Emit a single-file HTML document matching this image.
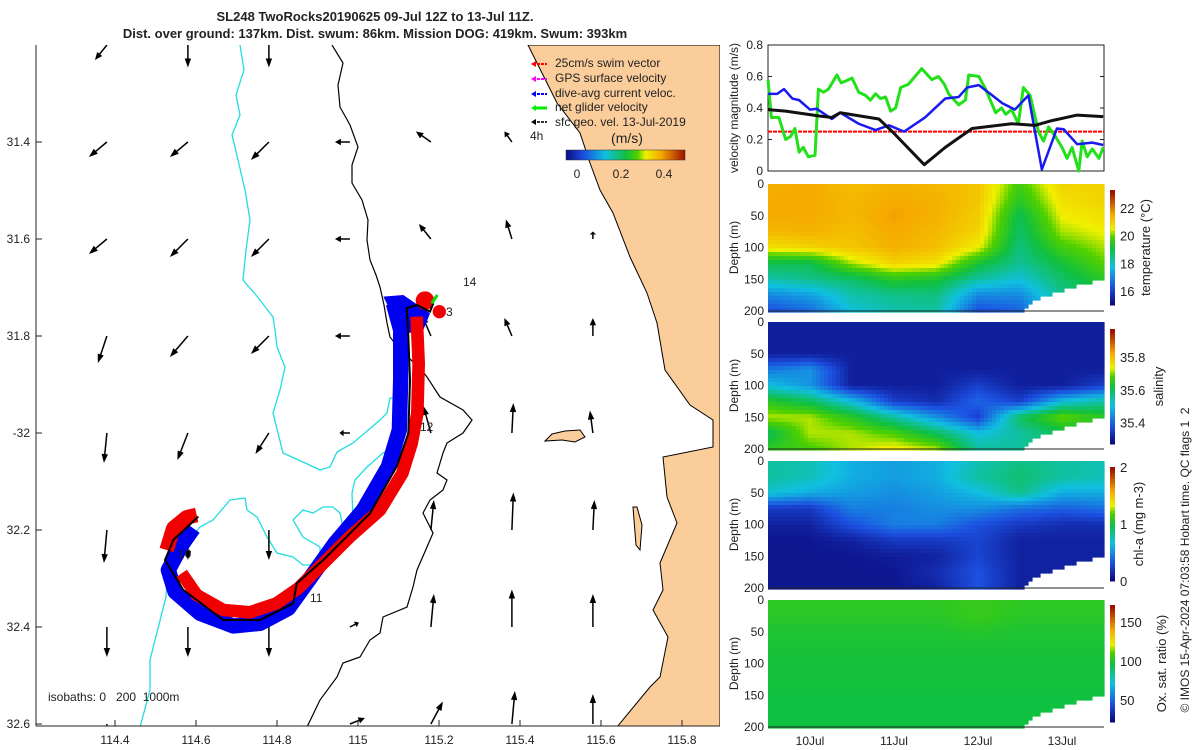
<!DOCTYPE html>
<html><head><meta charset="utf-8"><style>
html,body{margin:0;padding:0;background:#fff;}
svg{display:block;font-family:"Liberation Sans","DejaVu Sans",sans-serif;}
text{fill:#222;}
</style></head><body>
<svg id="root" width="1200" height="750" viewBox="0 0 1200 750" xmlns="http://www.w3.org/2000/svg">
<rect width="1200" height="750" fill="#fff"/>
<text x="375" y="21" text-anchor="middle" font-size="13" font-weight="bold">SL248 TwoRocks20190625 09-Jul 12Z to 13-Jul 11Z.</text>
<text x="375" y="38" text-anchor="middle" font-size="13" font-weight="bold">Dist. over ground: 137km. Dist. swum: 86km. Mission DOG: 419km. Swum: 393km</text>

<g id="map">
<clipPath id="mapclip"><rect x="36" y="45" width="684" height="681"/></clipPath>
<g clip-path="url(#mapclip)">
<polygon fill="#fbcd9b" stroke="#000" stroke-width="1" points="528,45 557,103 580,133 590,163 600,190 613,213 630,257 647,293 657,323 665,370 690,405 713,420 713,447 663,457 667,497 677,523 660,563 663,590 653,610 668,637 660,677 650,687 617,727 720,727 720,45"/>
<path d="M545,441 L552,434 L565,431 L580,430 L585,437 L575,442 L562,440 Z" fill="#fbcd9b" stroke="#000" stroke-width="1"/>
<path d="M633,507 L637,507 L642,525 L640,550 L636,545 Z" fill="#fbcd9b" stroke="#000" stroke-width="1"/>
<polyline fill="none" stroke="#000" stroke-width="1.2" points="332,45 343,63 338,85 340,107 350,125 358,147 352,165 352,183 362,200 368,220 367,240 370,260 376,275 380,287 384,305 387,323 390,337 400,350 420,368 427,377 440,397 463,410 472,420 463,433 447,443 443,453 437,473 447,480 443,490 430,500 423,513 433,533 427,547 417,570 413,587 407,607 383,617 380,633 370,640 360,657 343,663 337,677 320,700 307,727"/>
<polyline fill="none" stroke="#22dde0" stroke-width="1.3" points="240,45 244,70 236,95 240,115 232,135 238,160 245,190 250,220 246,250 243,280 256,295 273,317 275,330 277,347 285,367 280,390 273,413 278,433 283,453 303,462 320,470 330,467 337,452 353,443 380,420 387,413 390,398 398,398"/>
<polyline fill="none" stroke="#22dde0" stroke-width="1.3" points="150,690 150,660 166,597 167,580 180,550 200,527 213,520 230,500 245,498 247,510 257,517 267,537 277,553 293,557 303,565 320,565 320,547 303,537 293,520 303,510 313,513 323,507 333,507 340,513 343,527 350,530 353,520 352,493 355,480 367,467 383,453 390,450"/>
<polyline fill="none" stroke="#22dde0" stroke-width="1.3" points="150,690 140,727"/>
<g id="arrows"></g>
<g transform="translate(150,280) scale(0.33333)">
<polygon fill="#0000f0" points="700,50 760,45 840,100 820,150 770,160 735,120"/>
<polyline fill="none" stroke="#0000f0" stroke-width="46" stroke-linejoin="round" points="730,70 752,150 752,300 748,450 715,560 640,690 555,790 480,895 415,985 330,1030 250,1038 150,1000 75,935 55,870 95,795 130,745"/>
<polyline fill="none" stroke="#f00000" stroke-width="38" stroke-linejoin="round" points="800,110 806,250 802,400 785,490 757,580 690,690 600,770 520,850 445,925 380,970 300,997 220,990 140,945 95,880"/>
<polyline fill="none" stroke="#f00000" stroke-width="44" stroke-linejoin="round" points="50,810 70,745 110,712 140,705"/>
<circle cx="825" cy="62" r="28" fill="#f00000"/>
<circle cx="868" cy="95" r="20" fill="#f00000"/>
<polyline fill="none" stroke="#000" stroke-width="6" points="850,70 840,95 800,75 770,85 775,170 780,300 775,460 740,560 660,700 590,770 520,840 440,910 430,970 330,1020 220,1020 100,930 45,840 70,780 145,710"/>
<line x1="845" y1="70" x2="862" y2="45" stroke="#00e000" stroke-width="9"/>
</g>
<text x="463" y="286" font-size="12">14</text>
<text x="446" y="316" font-size="12">3</text>
<text x="420" y="431" font-size="12">12</text>
<text x="310" y="602" font-size="12">11</text>
<text x="178" y="558" font-size="12">10</text>
<text x="48" y="701" font-size="12" xml:space="preserve">isobaths: 0   200  1000m</text>
<g>
<line x1="533" y1="64" x2="547" y2="64" stroke="#f00" stroke-width="2" stroke-dasharray="3,1"/>
<polygon points="531,64 536,61 536,67" fill="#f00"/>
<line x1="533" y1="79" x2="547" y2="79" stroke="#f0f" stroke-width="2" stroke-dasharray="3,1"/>
<polygon points="531,79 536,76 536,82" fill="#f0f"/>
<line x1="533" y1="94" x2="547" y2="94" stroke="#00f" stroke-width="2" stroke-dasharray="3,1"/>
<polygon points="531,94 536,91 536,97" fill="#00f"/>
<line x1="533" y1="108" x2="547" y2="108" stroke="#0e0" stroke-width="3"/>
<polygon points="531,108 536,105 536,111" fill="#0e0"/>
<line x1="533" y1="122" x2="547" y2="122" stroke="#333" stroke-width="2" stroke-dasharray="3,1"/>
<polygon points="531,122 536,119 536,125" fill="#000"/>
<text x="555" y="67" font-size="12">25cm/s swim vector</text>
<text x="555" y="82" font-size="12">GPS surface velocity</text>
<text x="555" y="97" font-size="12">dive-avg current veloc.</text>
<text x="555" y="111" font-size="12">net glider velocity</text>
<text x="555" y="126" font-size="12">sfc geo. vel. 13-Jul-2019</text>
<text x="530" y="140" font-size="12">4h</text>
<text x="627" y="143" font-size="14" text-anchor="middle">(m/s)</text>
<defs><linearGradient id="jet" x1="0" x2="1" y1="0" y2="0">
<stop offset="0" stop-color="#0b0b80"/><stop offset="0.15" stop-color="#1c50e0"/><stop offset="0.33" stop-color="#10c0e0"/><stop offset="0.5" stop-color="#10c040"/><stop offset="0.6" stop-color="#50d000"/><stop offset="0.67" stop-color="#f0f000"/><stop offset="0.8" stop-color="#f5a800"/><stop offset="1" stop-color="#a01000"/></linearGradient></defs>
<rect x="566" y="150" width="119" height="10" fill="url(#jet)" stroke="#333" stroke-width="0.5"/>
<text x="577" y="178" font-size="12" text-anchor="middle">0</text>
<text x="621" y="178" font-size="12" text-anchor="middle">0.2</text>
<text x="664" y="178" font-size="12" text-anchor="middle">0.4</text>
</g>
</g>
<line x1="36" y1="45" x2="36" y2="726" stroke="#222" stroke-width="1"/>
<line x1="36" y1="726" x2="720" y2="726" stroke="#222" stroke-width="1"/>
<g id="mapticks"></g>
</g>

<g id="vel"></g>
<g id="heat"></g>
<text transform="translate(1189,560) rotate(-90)" text-anchor="middle" font-size="12" xml:space="preserve">© IMOS 15-Apr-2024 07:03:58 Hobart time. QC flags 1  2</text>
</svg>
<script>
const blackT=[0,0.21,0.6,0.76,0.86,1.32,1.48,1.86,2.11,2.43,2.9,3.18,3.38,3.68,3.99];
const blackV=[0.39,0.38,0.35,0.34,0.37,0.33,0.25,0.04,0.15,0.27,0.30,0.29,0.32,0.355,0.345];
const blueT=[0,0.11,0.19,0.29,0.37,0.5,0.58,0.76,0.86,1.08,1.28,1.44,1.62,1.87,2.11,2.27,2.37,2.51,2.67,2.79,2.94,3.1,3.26,3.44,3.52,3.68,3.86,3.99];
const blueV=[0.49,0.49,0.52,0.46,0.45,0.39,0.395,0.33,0.37,0.30,0.26,0.29,0.25,0.34,0.46,0.47,0.53,0.545,0.48,0.43,0.39,0.48,0.01,0.27,0.265,0.17,0.18,0.165];
const greenT=[0,0.04,0.13,0.21,0.27,0.32,0.37,0.42,0.48,0.56,0.6,0.66,0.72,0.82,0.87,0.92,1.0,1.08,1.16,1.22,1.28,1.34,1.4,1.46,1.52,1.58,1.67,1.75,1.83,1.95,2.03,2.1,2.15,2.27,2.35,2.39,2.51,2.59,2.71,2.78,2.83,2.9,2.98,3.04,3.12,3.22,3.28,3.34,3.42,3.5,3.56,3.62,3.7,3.74,3.8,3.86,3.94,3.99];
const greenV=[0.58,0.34,0.34,0.20,0.22,0.27,0.12,0.15,0.09,0.10,0.52,0.50,0.52,0.61,0.56,0.57,0.59,0.50,0.48,0.45,0.49,0.46,0.47,0.38,0.40,0.53,0.55,0.60,0.65,0.58,0.60,0.55,0.49,0.42,0.45,0.61,0.60,0.52,0.37,0.40,0.36,0.39,0.30,0.53,0.48,0.25,0.19,0.28,0.22,0.15,0.08,0.15,0.0,0.19,0.09,0.14,0.08,0.15];
const swimV=0.25;
const velTicks=[0,0.2,0.4,0.6,0.8];
const dayLabels=['10Jul','11Jul','12Jul','13Jul'];
const dayPos=[0.5,1.5,2.5,3.5];

const gridDepths=[0,25,50,75,100,125,150,175,200];
const gridTimes=[0,0.5,1,1.5,2,2.5,3,3.5,4];
const tempGrid=[
[21.5,21.6,21.3,21.5,21.4,21.2,19.8,21.0,21.0],
[21.6,21.6,21.4,21.6,21.5,21.2,19.5,20.8,21.0],
[21.6,21.6,21.4,21.7,21.5,21.1,19.0,20.6,20.8],
[21.4,21.5,21.3,21.6,21.4,21.0,18.8,20.3,20.6],
[20.8,21.0,21.2,21.5,21.3,20.6,18.6,19.8,20.3],
[19.0,19.0,20.3,21.0,20.8,19.3,18.4,19.2,20.0],
[18.2,18.5,18.8,19.5,19.3,18.3,17.8,18.8,19.5],
[17.0,17.3,18.2,18.5,18.6,17.0,17.0,18.5,19.0],
[16.2,16.6,17.8,18.2,18.3,16.2,16.5,18.0,18.5]];
const salGrid=[
[35.3,35.3,35.3,35.3,35.3,35.3,35.3,35.3,35.3],
[35.3,35.3,35.3,35.3,35.3,35.3,35.3,35.3,35.3],
[35.3,35.3,35.3,35.3,35.3,35.3,35.3,35.3,35.3],
[35.42,35.45,35.3,35.3,35.3,35.3,35.3,35.3,35.3],
[35.5,35.45,35.3,35.3,35.3,35.35,35.3,35.3,35.35],
[35.65,35.6,35.5,35.35,35.32,35.4,35.35,35.5,35.55],
[35.72,35.72,35.65,35.55,35.45,35.35,35.6,35.7,35.65],
[35.6,35.72,35.72,35.68,35.6,35.5,35.55,35.6,35.6],
[35.65,35.68,35.72,35.75,35.72,35.55,35.55,35.6,35.6]];
const chlGrid=[
[0.8,0.75,0.6,0.55,0.6,0.75,0.85,0.8,0.75],
[0.8,0.75,0.6,0.55,0.6,0.8,0.9,0.8,0.75],
[0.7,0.6,0.55,0.5,0.55,0.65,0.85,0.6,0.6],
[0.2,0.2,0.45,0.45,0.5,0.5,0.4,0.35,0.4],
[0.1,0.1,0.3,0.45,0.45,0.3,0.2,0.15,0.15],
[0.05,0.05,0.1,0.2,0.2,0.25,0.1,0.1,0.1],
[0.05,0.05,0.05,0.08,0.1,0.25,0.1,0.1,0.1],
[0.05,0.05,0.05,0.05,0.15,0.3,0.1,0.1,0.1],
[0.05,0.05,0.05,0.05,0.1,0.3,0.1,0.1,0.1]];
const oxyGrid=[
[104,104,104,104,104,106,104,104,104],
[103,103,103,103,103,106,103,103,103],
[100,100,100,100,100,102,100,100,100],
[99,99,99,99,99,99,99,99,99],
[98,98,98,98,98,98,98,98,98],
[98,98,98,98,98,98,98,98,98],
[97,97,97,97,97,97,97,97,97],
[97,97,97,97,97,97,97,97,97],
[97,97,97,97,97,97,97,97,97]];
const bottomT=[0,3.0,3.2,3.5,4];
const bottomD=[200,200,180,165,148];

const arrowLons=[114.38,114.58,114.78,114.98,115.18,115.38,115.58];
const arrowLats=[31.2,31.4,31.6,31.8,32.0,32.2,32.4,32.6];
const arrowU=[
[-0.08,0,0,null,null,null,null],
[-0.12,-0.12,-0.12,-0.1,-0.1,-0.05,null],
[-0.12,-0.12,-0.12,-0.1,-0.08,-0.04,0.0],
[-0.06,-0.12,-0.12,-0.1,-0.06,-0.05,0],
[-0.02,-0.07,-0.09,-0.07,-0.05,0.01,-0.02],
[-0.02,0,0,null,0.02,0.01,0.01],
[0,0,0,0.06,0.02,0,0],
[0,null,null,0.1,0.08,0.02,0]];
const arrowV=[
[-0.1,-0.15,-0.15,null,null,null,null],
[-0.1,-0.1,-0.12,0,0.07,0.07,null],
[-0.1,-0.12,-0.12,0,0.1,0.13,0.05],
[-0.18,-0.14,-0.12,0,0.14,0.12,0.12],
[-0.2,-0.18,-0.14,0,0.18,0.2,0.15],
[-0.22,-0.2,-0.2,null,0.2,0.25,0.2],
[-0.2,-0.2,-0.2,0.03,0.22,0.25,0.22],
[-0.05,null,null,0.04,0.15,0.22,0.2]];
const lonTicks=[114.4,114.6,114.8,115,115.2,115.4,115.6,115.8];
const latTicks=[31.4,31.6,31.8,32,32.2,32.4,32.6];
const latLabels=['31.4','31.6','31.8','-32','32.2','32.4','32.6'];
const lonLabels=['114.4','114.6','114.8','115','115.2','115.4','115.6','115.8'];

const NS='http://www.w3.org/2000/svg';
function mk(tag,attrs,parent){const e=document.createElementNS(NS,tag);for(const k in attrs)e.setAttribute(k,attrs[k]);parent.appendChild(e);return e;}
const X=lon=>115+(lon-114.4)*405;
const Y=lat=>142+(lat-31.4)*485;

const mt=document.getElementById('mapticks');
lonTicks.forEach((v,i)=>{const x=X(v);
 const l=mk('line',{x1:x,y1:726,x2:x,y2:720,stroke:'#222'},mt);
 
 
 const t=mk('text',{x:x,y:744,'font-size':12,'text-anchor':'middle'},mt);t.textContent=lonLabels[i];
 
 });
latTicks.forEach((v,i)=>{const y=Y(v);
 const l=mk('line',{x1:36,y1:y,x2:42,y2:y,stroke:'#222'},mt);
 
 
 const t=mk('text',{x:30,y:y+4,'font-size':12,'text-anchor':'end'},mt);t.textContent=latLabels[i];
 
 });

const ag=document.getElementById('arrows');const S=150;
arrowLats.forEach((la,r)=>arrowLons.forEach((lo,c)=>{const u=arrowU[r][c],v=arrowV[r][c];if(u===null||v===null)return;
 const x0=X(lo),y0=Y(la),x1=x0+u*S,y1=y0-v*S;const L=Math.hypot(x1-x0,y1-y0);if(L<1)return;
 const g=mk('g',{},ag);
 
 
 const ux=(x1-x0)/L,uy=(y1-y0)/L,h=Math.min(9,L*0.4);
 mk('line',{x1:x0,y1:y0,x2:x1-ux*h*0.6,y2:y1-uy*h*0.6,stroke:'#000','stroke-width':1.5},g);
 mk('polygon',{points:`${x1},${y1} ${x1-ux*h-uy*3.2},${y1-uy*h+ux*3.2} ${x1-ux*h+uy*3.2},${y1-uy*h-ux*3.2}`,fill:'#000'},g);
}));

const vg=document.getElementById('vel');
const VX=t=>768+t*84, VY=v=>171-v/0.8*126;
mk('rect',{x:768,y:45,width:336,height:126,fill:'none',stroke:'#222','stroke-width':1},vg);
velTicks.forEach(v=>{const y=VY(v);mk('line',{x1:768,y1:y,x2:772,y2:y,stroke:'#222'},vg);mk('line',{x1:1104,y1:y,x2:1100,y2:y,stroke:'#222'},vg);
 const t=mk('text',{x:763,y:y+4,'font-size':12,'text-anchor':'end'},vg);t.textContent=String(v);
 
 });
const vlab=mk('text',{transform:'translate(738,108) rotate(-90)','font-size':12,'text-anchor':'middle'},vg);vlab.textContent='velocity magnitude (m/s)';


function line(T,V,col,w,name,dash){const p=mk('polyline',{points:T.map((t,i)=>VX(t)+','+VY(V[i])).join(' '),fill:'none',stroke:col,'stroke-width':w,'stroke-linejoin':'round'},vg);if(dash)p.setAttribute('stroke-dasharray',dash);
 
 }
line([0,4],[swimV,swimV],'#f00',2,'swim-speed-line','4,1');
line(greenT,greenV,'#22e01a',3,'net-glider-velocity-line');
line(blueT,blueV,'#1a1af0',2.5,'dive-avg-current-line');
line(blackT,blackV,'#111',3,'sfc-geo-velocity-line');

function cmap(f){f=Math.max(0,Math.min(1,f));const st=[[0,[11,11,128]],[0.15,[28,80,224]],[0.33,[16,192,224]],[0.5,[16,192,64]],[0.6,[80,208,0]],[0.67,[240,240,0]],[0.8,[245,168,0]],[1,[160,16,0]]];
 for(let i=1;i<st.length;i++){if(f<=st[i][0]){const a=st[i-1],b=st[i],r=(f-a[0])/(b[0]-a[0]);return 'rgb('+a[1].map((c,k)=>Math.round(c+(b[1][k]-c)*r)).join(',')+')';}}return 'rgb(160,16,0)';}
function interp(xs,ys,x){if(x<=xs[0])return ys[0];for(let i=1;i<xs.length;i++)if(x<=xs[i])return ys[i-1]+(ys[i]-ys[i-1])*(x-xs[i-1])/(xs[i]-xs[i-1]);return ys[ys.length-1];}
function bil(G,t,d){const ci=Math.min(7,Math.floor(t/0.5)),ri=Math.min(7,Math.floor(d/25));const ft=(t-ci*0.5)/0.5,fd=(d-ri*25)/25;
 const a=G[ri][ci],b=G[ri][ci+1],c=G[ri+1][ci],e=G[ri+1][ci+1];return (a*(1-ft)+b*ft)*(1-fd)+(c*(1-ft)+e*ft)*fd;}
const hg=document.getElementById('heat');
const panels=[
 {name:'temperature',G:tempGrid,lo:15,hi:23.3,y0:184,ticks:[16,18,20,22],lab:'temperature (°C)',lx:1150,cb0:190,cb1:305},
 {name:'salinity',G:salGrid,lo:35.27,hi:35.97,y0:322,ticks:[35.4,35.6,35.8],lab:'salinity',lx:1163,cb0:329,cb1:444},
 {name:'chlorophyll',G:chlGrid,lo:0,hi:2,y0:461,ticks:[0,1,2],lab:'chl-a (mg m-3)',lx:1143,cb0:467,cb1:581},
 {name:'oxygen',G:oxyGrid,lo:22,hi:172,y0:600,ticks:[50,100,150],lab:'Ox. sat. ratio (%)',lx:1166,cb0:605,cb1:722}];
const H=127, cw=4, chh=4;
panels.forEach(P=>{const g=mk('g',{},hg);
 
 
 const DY=d=>P.y0+d/200*H;
 for(let px=0;px<336;px+=cw){const t=(px+cw/2)/84;const bd=interp(bottomT,bottomD,t);
  for(let py=0;py<H;py+=chh){const d=(py+chh/2)/H*200;if(d>bd+2)break;
   const r=mk('rect',{x:768+px,y:P.y0+py,width:cw+0.6,height:chh+0.6,fill:cmap((bil(P.G,t,d)-P.lo)/(P.hi-P.lo))},g);
   
   }}
 mk('line',{x1:768,y1:P.y0+H,x2:1104,y2:P.y0+H,stroke:'#222'},g);
 [0,50,100,150,200].forEach(d=>{const t=mk('text',{x:764,y:DY(d)+4,'font-size':12,'text-anchor':'end'},g);t.textContent=d;
  
  });
 const dl=mk('text',{transform:`translate(738,${P.y0+H/2}) rotate(-90)`,'font-size':12,'text-anchor':'middle'},g);dl.textContent='Depth (m)';
 
 
 const n=40;for(let i=0;i<n;i++){const r=mk('rect',{x:1110,y:P.cb1-(i+1)*(P.cb1-P.cb0)/n,width:5,height:(P.cb1-P.cb0)/n+0.5,fill:cmap(i/(n-1))},g);
  
  }
 P.ticks.forEach(v=>{const y=P.cb1-(v-P.lo)/(P.hi-P.lo)*(P.cb1-P.cb0);
  const t=mk('text',{x:1120,y:y+5,'font-size':13},g);t.textContent=String(v);
  
  });
 const cl=mk('text',{transform:`translate(${P.lx},${(P.cb0+P.cb1)/2}) rotate(-90)`,'font-size':13,'text-anchor':'middle'},g);cl.textContent=P.lab;
 
 
});
dayLabels.forEach((s,i)=>{const t=mk('text',{x:VX(dayPos[i]),y:745,'font-size':12,'text-anchor':'middle'},hg);t.textContent=s;
 
 });
</script>
</body></html>
